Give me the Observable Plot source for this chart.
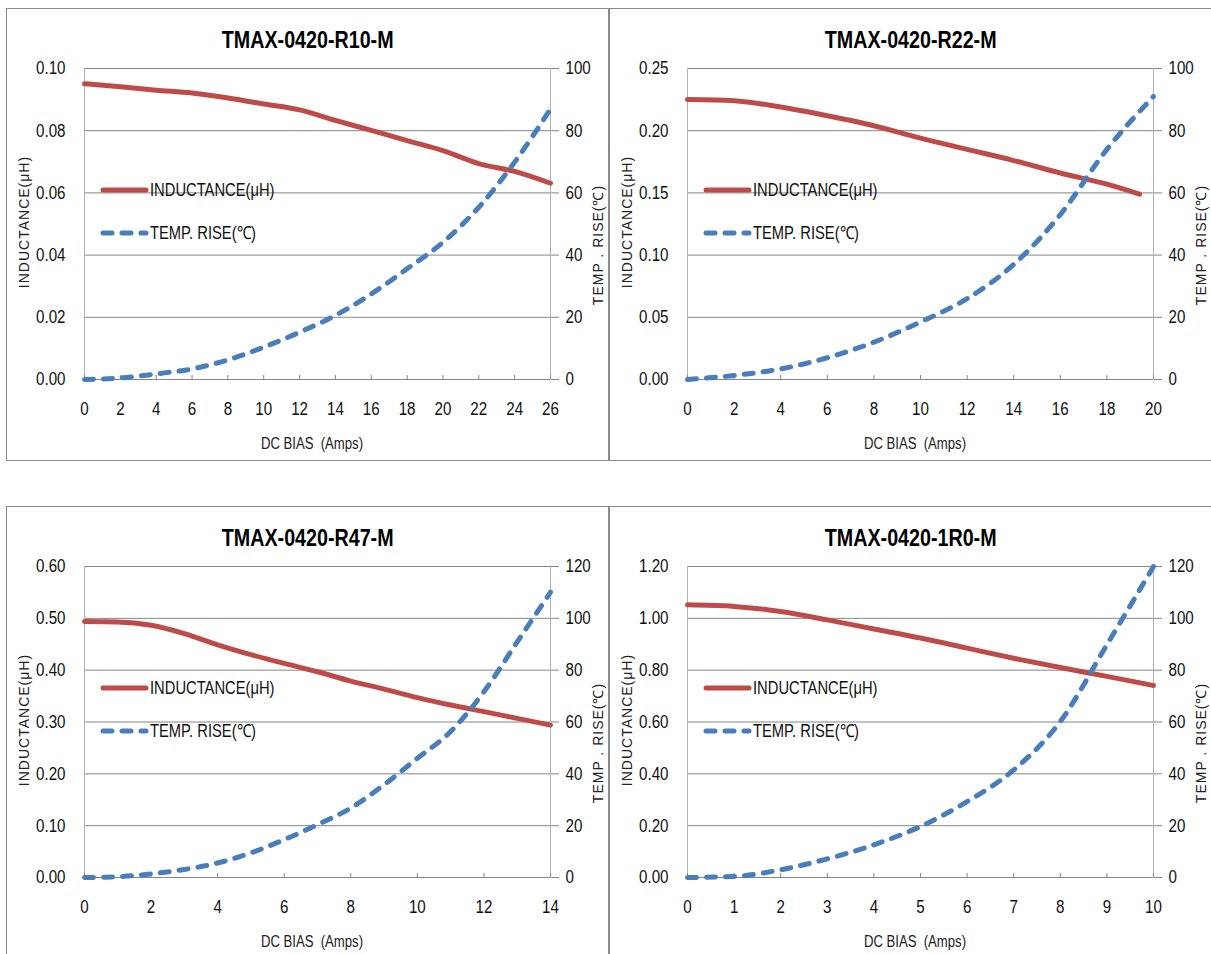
<!DOCTYPE html>
<html>
<head>
<meta charset="utf-8">
<script src="https://cdn.jsdelivr.net/npm/d3@7"></script>
<script src="https://cdn.jsdelivr.net/npm/@observablehq/plot@0.6"></script>
<style>
  html, body { margin: 0; padding: 0; background: #fff; }
  body { width: 1211px; height: 954px; overflow: hidden; position: relative;
         font-family: "Liberation Sans", Arial, sans-serif; color: #111; }
  .panel { position: absolute; width: 603px; height: 453px; background: #fff; }
  .panel svg { position: absolute; left: 0; top: 0; }
  .frame { position: absolute; inset: 0; border: 1.5px solid #8a8a8a; box-sizing: border-box; pointer-events: none; }
  .title { position: absolute; left: 0; width: 100%; top: 18px; text-align: center; font-weight: bold;
           font-size: 24px; line-height: 28px; color: #000; }
  .title span { display: inline-block; transform: scaleX(0.82); }
  .vlabel { position: absolute; white-space: nowrap; font-family: "Liberation Sans", Arial, sans-serif;
            font-size: 14px; letter-spacing: 1px; color: #222; transform: translate(-50%, -50%) rotate(-90deg); }
  .xlabel { position: absolute; white-space: pre; font-size: 16px; color: #222; transform: translate(-50%, -50%) scaleX(0.82); }
  .legend { position: absolute; left: 0; top: 0; }
</style>
</head>
<body>
<script>
// ---------- data ----------
// TMAX-0420-R10-M
const r10Bias = [0, 2, 4, 6, 8, 10, 12, 14, 16, 18, 20, 22, 24, 26];
const r10Inductance = [0.0951, 0.0941, 0.0930, 0.0921, 0.0905, 0.0886, 0.0867, 0.0833, 0.0801, 0.0768, 0.0736, 0.0694, 0.0669, 0.0631];
const r10TempRise = [0, 0.5, 1.8, 3.4, 6.3, 10.4, 15.2, 20.6, 27.5, 35.6, 44.1, 55.4, 69.9, 87.0];
const r10BiasTicks = [0, 2, 4, 6, 8, 10, 12, 14, 16, 18, 20, 22, 24, 26];
const r10InductanceTicks = [0, 0.02, 0.04, 0.06, 0.08, 0.10];
const r10TempTicks = [0, 20, 40, 60, 80, 100];

// TMAX-0420-R22-M
const r22InductanceBias = [0, 2, 4, 6, 8, 10, 12, 14, 16, 18, 19.4];
const r22Inductance = [0.225, 0.224, 0.219, 0.212, 0.204, 0.194, 0.185, 0.176, 0.166, 0.157, 0.149];
const r22TempBias = [0, 2, 4, 6, 8, 10, 12, 14, 16, 18, 20];
const r22TempRise = [0, 1.3, 3.4, 7, 12, 18.5, 26, 37, 53, 74, 91];
const r22BiasTicks = [0, 2, 4, 6, 8, 10, 12, 14, 16, 18, 20];
const r22InductanceTicks = [0, 0.05, 0.10, 0.15, 0.20, 0.25];
const r22TempTicks = [0, 20, 40, 60, 80, 100];

// TMAX-0420-R47-M
const r47Bias = [0, 1, 2, 3, 4, 5, 6, 7, 8, 9, 10, 11, 12, 13, 14];
const r47Inductance = [0.494, 0.493, 0.4865, 0.4705, 0.449, 0.430, 0.413, 0.397, 0.379, 0.3635, 0.347, 0.3327, 0.320, 0.307, 0.294];
const r47TempRise = [0, 0.3, 1.4, 3.1, 5.6, 9.5, 14.6, 20.4, 26.8, 35.8, 46.0, 56.3, 71.7, 90.9, 110.1];
const r47BiasTicks = [0, 2, 4, 6, 8, 10, 12, 14];
const r47InductanceTicks = [0, 0.10, 0.20, 0.30, 0.40, 0.50, 0.60];
const r47TempTicks = [0, 20, 40, 60, 80, 100, 120];

// TMAX-0420-1R0-M
const r1r0Bias = [0, 1, 2, 3, 4, 5, 6, 7, 8, 9, 10];
const r1r0Inductance = [1.052, 1.046, 1.026, 0.994, 0.959, 0.924, 0.885, 0.846, 0.810, 0.776, 0.741];
const r1r0TempRise = [0, 0.4, 3.0, 7.2, 12.6, 19.7, 29.3, 41.5, 60.2, 89.8, 120];
const r1r0BiasTicks = [0, 1, 2, 3, 4, 5, 6, 7, 8, 9, 10];
const r1r0InductanceTicks = [0, 0.20, 0.40, 0.60, 0.80, 1.00, 1.20];
const r1r0TempTicks = [0, 20, 40, 60, 80, 100, 120];

const titles = ["TMAX-0420-R10-M", "TMAX-0420-R22-M", "TMAX-0420-R47-M", "TMAX-0420-1R0-M"];
const leftAxisTitle = "INDUCTANCE(μH)";
const rightAxisTitle = "TEMP . RISE(℃)";
const xAxisTitle = "DC BIAS  (Amps)";
const legendLabels = ["INDUCTANCE(μH)", "TEMP. RISE(℃)"];

// ---------- drawing ----------
const RED = "#BE4B48", BLUE = "#4A7EBB", GRID = "#868686";
const FONT = '"Liberation Sans", Arial, sans-serif';
const NARROW = 0.82;

// emulate a narrow face by compressing every text horizontally around its anchor
function condense(node, f) {
  d3.select(node).selectAll("text").each(function () {
    const el = d3.select(this);
    const xa = el.attr("x");
    if (xa != null && /^-?[\d.]+$/.test(xa)) el.attr("x", (+xa) / f);
    const tr = el.attr("transform") || "";
    el.attr("transform", `${tr} scale(${f},1)`);
  });
}

function makePanel(left, top, cfg) {
  const div = document.createElement("div");
  div.className = "panel";
  div.style.left = left + "px";
  div.style.top = top + "px";
  document.body.appendChild(div);

  const indMax = d3.max(cfg.indTicks), tempMax = d3.max(cfg.tempTicks);
  const k = indMax / tempMax;
  const xMin = d3.min(cfg.biasTicks), xMax = d3.max(cfg.biasTicks);
  const indData = cfg.indBias.map((b, i) => ({bias: b, value: cfg.ind[i]}));
  const tempData = cfg.tempBias.map((b, i) => ({bias: b, value: cfg.temp[i]}));

  const chart = Plot.plot({
    width: 603, height: 453,
    marginLeft: 78, marginRight: 59, marginTop: 60, marginBottom: 82,
    style: {fontFamily: FONT, fontSize: "18.5px", color: "#111", background: "transparent", overflow: "visible"},
    x: {domain: [xMin, xMax], label: null},
    y: {domain: [0, indMax], label: null},
    marks: [
      Plot.gridY(cfg.indTicks, {stroke: GRID, strokeOpacity: 1, strokeWidth: 1}),
      Plot.ruleX([xMin, xMax], {stroke: "#b4b4b4", strokeWidth: 1}),
      Plot.axisY(cfg.indTicks, {anchor: "left", tickSize: 0, tickPadding: 19, label: null,
        tickFormat: d => d.toFixed(2), fill: "#111"}),
      Plot.axisY(cfg.tempTicks.map(t => t * k), {anchor: "right", tickSize: 8, tickPadding: 7, label: null,
        stroke: GRID, fill: "#111", tickFormat: d => String(Math.round(d / k))}),
      Plot.axisX(cfg.biasTicks, {anchor: "bottom", tickSize: -4, tickPadding: 26, label: null,
        stroke: GRID, fill: "#111", tickFormat: d => String(d)}),
      Plot.line(indData, {x: "bias", y: "value", stroke: RED, strokeWidth: 5,
        curve: "monotone-x", strokeLinecap: "round", strokeLinejoin: "round"}),
      Plot.line(tempData, {x: "bias", y: d => d.value * k, stroke: BLUE, strokeWidth: 5,
        strokeDasharray: "9,10", curve: "monotone-x", strokeLinecap: "round"})
    ]
  });
  condense(chart, NARROW);
  div.appendChild(chart);

  const t = document.createElement("div");
  t.className = "title";
  const ts = document.createElement("span");
  ts.textContent = cfg.title; t.appendChild(ts); div.appendChild(t);

  const yl = document.createElement("div");
  yl.className = "vlabel"; yl.textContent = leftAxisTitle;
  yl.style.left = "18px"; yl.style.top = "214px"; div.appendChild(yl);

  const yr = document.createElement("div");
  yr.className = "vlabel"; yr.textContent = rightAxisTitle;
  yr.style.left = "591px"; yr.style.top = "237px"; div.appendChild(yr);

  const xl = document.createElement("div");
  xl.className = "xlabel"; xl.textContent = xAxisTitle;
  xl.style.left = "306px"; xl.style.top = "436px"; div.appendChild(xl);

  // legend
  const svg = d3.select(div).append("svg").attr("class", "legend")
    .attr("width", 603).attr("height", 453).style("overflow", "visible");
  const rows = [{y: 182, color: RED, dash: null}, {y: 225, color: BLUE, dash: "9,10"}];
  rows.forEach((r, i) => {
    svg.append("line").attr("x1", 97).attr("x2", 140).attr("y1", r.y).attr("y2", r.y)
      .attr("stroke", r.color).attr("stroke-width", 5).attr("stroke-linecap", "round")
      .attr("stroke-dasharray", r.dash);
    svg.append("text").attr("transform", `translate(144,${r.y}) scale(${NARROW},1)`).attr("dy", "0.36em")
      .style("font-family", FONT).style("font-size", "18px").attr("fill", "#111")
      .text(legendLabels[i]);
  });

  const f = document.createElement("div");
  f.className = "frame"; div.appendChild(f);
}

makePanel(6, 8, {title: titles[0], indBias: r10Bias, ind: r10Inductance, tempBias: r10Bias, temp: r10TempRise,
  biasTicks: r10BiasTicks, indTicks: r10InductanceTicks, tempTicks: r10TempTicks});
makePanel(609, 8, {title: titles[1], indBias: r22InductanceBias, ind: r22Inductance, tempBias: r22TempBias, temp: r22TempRise,
  biasTicks: r22BiasTicks, indTicks: r22InductanceTicks, tempTicks: r22TempTicks});
makePanel(6, 506, {title: titles[2], indBias: r47Bias, ind: r47Inductance, tempBias: r47Bias, temp: r47TempRise,
  biasTicks: r47BiasTicks, indTicks: r47InductanceTicks, tempTicks: r47TempTicks});
makePanel(609, 506, {title: titles[3], indBias: r1r0Bias, ind: r1r0Inductance, tempBias: r1r0Bias, temp: r1r0TempRise,
  biasTicks: r1r0BiasTicks, indTicks: r1r0InductanceTicks, tempTicks: r1r0TempTicks});
</script>
</body>
</html>
